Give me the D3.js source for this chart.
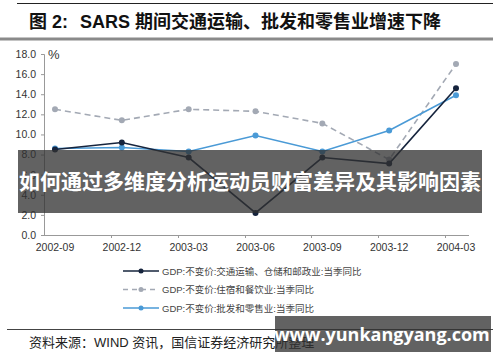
<!DOCTYPE html>
<html><head><meta charset="utf-8">
<script src="https://cdn.jsdelivr.net/npm/d3@7"></script>
<style>body{margin:0;background:#fff}svg{display:block}</style>
</head><body>
<script>
const categories = ["2002-09","2002-12","2003-03","2003-06","2003-09","2003-12","2004-03"];
const transport = [8.5, 9.2, 7.7, 2.2, 7.7, 7.1, 14.6];
const hospitality = [12.5, 11.4, 12.5, 12.3, 11.1, 7.5, 17.0];
const retail = [8.6, 8.7, 8.3, 9.9, 8.3, 10.4, 13.9];
const yTicks = [0, 2, 4, 6, 8, 10, 12, 14, 16, 18];
const seriesNames = ["GDP:不变价:交通运输、仓储和邮政业:当季同比","GDP:不变价:住宿和餐饮业:当季同比","GDP:不变价:批发和零售业:当季同比"];

const W = 500, H = 362;
const svg = d3.select("body").append("svg").attr("width", W).attr("height", H);
const font = "'Liberation Sans', Arial, 'Noto Sans CJK SC', sans-serif";

// header
svg.append("line").attr("x1",17).attr("x2",493).attr("y1",3.5).attr("y2",3.5).attr("stroke","#222").attr("stroke-width",1);
svg.append("text").attr("x",29).attr("y",28).attr("font-family",font).attr("font-weight","bold").attr("font-size",18).attr("fill","#111")
  .text("图 2:");
svg.append("text").attr("x",80).attr("y",28).attr("font-family",font).attr("font-weight","bold").attr("font-size",18).attr("fill","#111")
  .text("SARS 期间交通运输、批发和零售业增速下降");
svg.append("rect").attr("x",0).attr("y",37.5).attr("width",493).attr("height",3).attr("fill","#8a8a8a");

const x = d3.scalePoint().domain(categories).range([55, 456]);
const y = d3.scaleLinear().domain([0, 18]).range([235, 54]);

// y axis
const yAxis = d3.axisLeft(y).tickValues(yTicks).tickFormat(d3.format(".1f")).tickSize(3).tickPadding(5);
const gy = svg.append("g").attr("transform","translate(44,0)").call(yAxis);
gy.select(".domain").attr("stroke","#999");
gy.selectAll(".tick line").attr("stroke","#999");
gy.selectAll("text").attr("font-family",font).attr("font-size",10.5).attr("fill","#333");
svg.append("text").attr("x",48).attr("y",59).attr("font-family",font).attr("font-size",13).attr("fill","#333").text("%");

// x axis
svg.append("line").attr("x1",44).attr("x2",469).attr("y1",235.5).attr("y2",235.5).attr("stroke","#999");
const gx = svg.append("g");
categories.forEach((c,i)=>{
  const tx = Math.round(x(c) - 11) + 0.5;
  if(i>0) gx.append("line").attr("x1",tx).attr("x2",tx).attr("y1",235).attr("y2",238).attr("stroke","#999");
  gx.append("text").attr("x",x(c)).attr("y",251).attr("text-anchor","middle").attr("font-family",font).attr("font-size",10.5).attr("fill","#333").text(c);
});

const line = d3.line().x((d,i)=>x(categories[i])).y(d=>y(d));
const series = [
  {vals: hospitality, color:"#a3a9b4", dash:"6,4", w:1.6},
  {vals: retail, color:"#4a9ad6", dash:null, w:1.6},
  {vals: transport, color:"#16243d", dash:null, w:1.6}
];
series.forEach(s=>{
  svg.append("path").datum(s.vals).attr("d",line).attr("fill","none").attr("stroke",s.color).attr("stroke-width",s.w).attr("stroke-dasharray",s.dash);
  svg.selectAll(null).data(s.vals).enter().append("circle")
    .attr("cx",(d,i)=>x(categories[i])).attr("cy",d=>y(d)).attr("r",3).attr("fill",s.color);
});

// legend
const legend = [
  {name: seriesNames[0], color:"#16243d", dash:null},
  {name: seriesNames[1], color:"#a3a9b4", dash:"5,4"},
  {name: seriesNames[2], color:"#4a9ad6", dash:null}
];
legend.forEach((l,i)=>{
  const ly = 271 + i*18.5;
  svg.append("line").attr("x1",123).attr("x2",159).attr("y1",ly).attr("y2",ly).attr("stroke",l.color).attr("stroke-width",1.6).attr("stroke-dasharray",l.dash);
  svg.append("circle").attr("cx",141).attr("cy",ly).attr("r",2.5).attr("fill",l.color);
  svg.append("text").attr("x",162).attr("y",ly+3.5).attr("font-family",font).attr("font-size",9.5).attr("fill","#444").text(l.name);
});

// footer
svg.append("line").attr("x1",7).attr("x2",493).attr("y1",329.5).attr("y2",329.5).attr("stroke","#444");
svg.append("text").attr("x",29).attr("y",347).attr("font-family",font).attr("font-size",13).attr("fill","#222").text("资料来源：WIND 资讯，国信证券经济研究所整理");

// overlays
svg.append("rect").attr("x",18).attr("y",150).attr("width",464).attr("height",63).attr("fill","rgba(48,48,48,0.76)");
svg.append("text").attr("x",250).attr("y",189).attr("text-anchor","middle").attr("font-family","'Noto Sans CJK SC', sans-serif").attr("font-weight","bold").attr("font-size",21).attr("fill","#fff")
  .text("如何通过多维度分析运动员财富差异及其影响因素");
svg.append("rect").attr("x",275).attr("y",316).attr("width",216).attr("height",36).attr("fill","rgba(48,48,48,0.76)");
svg.append("text").attr("x",382).attr("y",341).attr("text-anchor","middle").attr("font-family","'Open Sans', 'DejaVu Sans', sans-serif").attr("font-weight","bold").attr("font-size",18).attr("fill","#fff")
  .text("www.yunkangyang.com");
</script>
</body></html>
